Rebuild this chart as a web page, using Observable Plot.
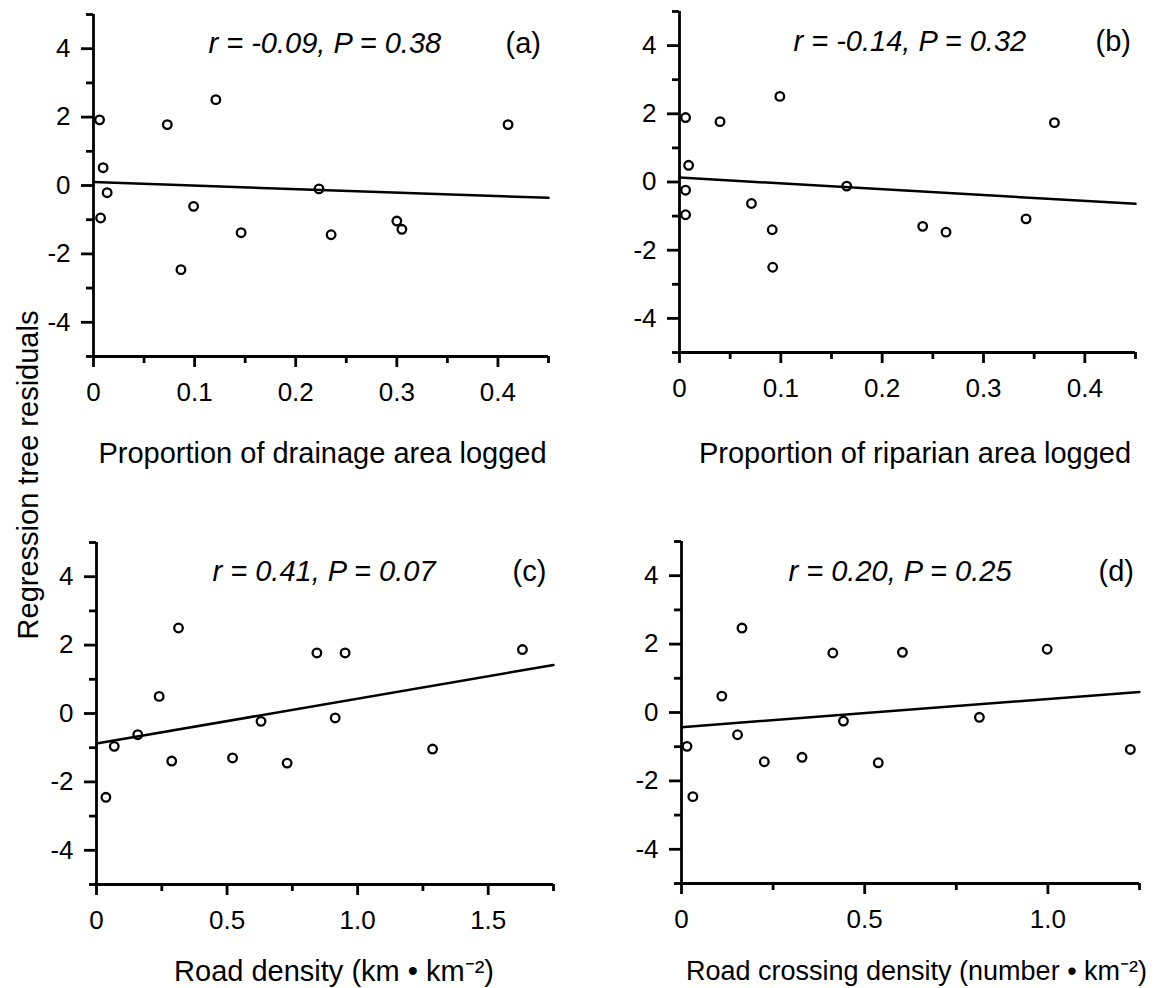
<!DOCTYPE html>
<html>
<head>
<meta charset="utf-8">
<script src="https://cdn.jsdelivr.net/npm/d3@7"></script>
<script src="https://cdn.jsdelivr.net/npm/@observablehq/plot@0.6"></script>
<style>
  body { margin: 0; background: #fff; }
  #wrap { position: relative; width: 1161px; height: 988px; background: #fff; font-family: "Liberation Sans", Arial, sans-serif; color: #000; }
  .panel { position: absolute; z-index: 1; }
  #ylab { position: absolute; z-index: 5; left: 28px; top: 475px; transform: translate(-50%, -50%) rotate(-90deg); font-size: 29px; white-space: nowrap; }
</style>
</head>
<body>
<div id="wrap"><div id="ylab">Regression tree residuals</div></div>
<script>
// ---------- DATA ----------
// (a) Proportion of drainage area logged vs residuals
const drainX = [0.006, 0.0095, 0.0135, 0.007, 0.073, 0.121, 0.099, 0.0865, 0.146, 0.223, 0.235, 0.300, 0.305, 0.410];
const drainY = [1.92, 0.52, -0.21, -0.95, 1.78, 2.51, -0.61, -2.46, -1.38, -0.10, -1.44, -1.04, -1.28, 1.78];
const drainLineX = [0, 0.45];
const drainLineY = [0.10, -0.36];

// (b) Proportion of riparian area logged
const ripX = [0.006, 0.009, 0.006, 0.006, 0.040, 0.099, 0.071, 0.0915, 0.092, 0.165, 0.240, 0.263, 0.342, 0.370];
const ripY = [1.89, 0.49, -0.24, -0.96, 1.77, 2.51, -0.63, -1.40, -2.50, -0.12, -1.30, -1.47, -1.08, 1.74];
const ripLineX = [0, 0.45];
const ripLineY = [0.13, -0.64];

// (c) Road density
const roadX = [0.036, 0.068, 0.158, 0.240, 0.314, 0.288, 0.521, 0.630, 0.730, 0.844, 0.952, 0.914, 1.287, 1.631];
const roadY = [-2.45, -0.96, -0.62, 0.50, 2.50, -1.39, -1.30, -0.23, -1.45, 1.77, 1.77, -0.13, -1.04, 1.87];
const roadLineX = [0, 1.75];
const roadLineY = [-0.88, 1.42];

// (d) Road crossing density
const crossX = [0.015, 0.031, 0.110, 0.153, 0.165, 0.226, 0.329, 0.413, 0.442, 0.537, 0.603, 0.813, 0.998, 1.225];
const crossY = [-0.99, -2.46, 0.48, -0.65, 2.47, -1.44, -1.31, 1.74, -0.25, -1.47, 1.76, -0.14, 1.85, -1.08];
const crossLineX = [0, 1.25];
const crossLineY = [-0.43, 0.60];

// ticks
const yMajor = [-4, -2, 0, 2, 4];
const yMinor = [-5, -3, -1, 1, 3, 5];
const propMajor = [0, 0.1, 0.2, 0.3, 0.4];
const propMinor = [0.05, 0.15, 0.25, 0.35, 0.45];
const roadMajor = [0, 0.5, 1.0, 1.5];
const roadMinor = [0.25, 0.75, 1.25, 1.75];
const crossMajor = [0, 0.5, 1.0];
const crossMinor = [0.25, 0.75, 1.25];

// texts
const statTexts = ["r = -0.09, P = 0.38", "r = -0.14, P = 0.32", "r = 0.41, P = 0.07", "r = 0.20, P = 0.25"];
const tags = ["(a)", "(b)", "(c)", "(d)"];
const xTitles = ["Proportion of drainage area logged", "Proportion of riparian area logged",
                 "Road density (km \u2022 km\u207B\u00B2)", "Road crossing density (number \u2022 km\u207B\u00B2)"];

// ---------- DRAW ----------
const fmtProp = d => d === 0 ? "0" : String(d);
const fmtRoad = d => d === 0 ? "0" : d.toFixed(1);
const fmtY = d => String(d);
const FONT = '"Liberation Sans", Arial, sans-serif';

function panel(cfg) {
  const pts = cfg.xs.map((x, i) => ({x, y: cfg.ys[i]}));
  const line = cfg.lx.map((x, i) => ({x, y: cfg.ly[i]}));
  const sw = 2.8;
  const svg = Plot.plot({
    width: cfg.width, height: cfg.height,
    marginLeft: cfg.ml, marginRight: cfg.mr, marginTop: cfg.mt, marginBottom: cfg.mb,
    style: {fontFamily: FONT, fontSize: "26px", color: "#000", background: "transparent", overflow: "visible"},
    x: {domain: cfg.xDomain, axis: null},
    y: {domain: [-5, 5], axis: null},
    marks: [
      Plot.axisY(yMajor, {anchor: "left", tickSize: 12, tickPadding: 11, tickFormat: fmtY, fontSize: 26, strokeWidth: sw, label: null}),
      Plot.axisY(yMinor, {anchor: "left", tickSize: 7, tickFormat: () => "", strokeWidth: sw, label: null}),
      Plot.axisX(cfg.major, {anchor: "bottom", tickSize: 11, tickPadding: 15, tickFormat: cfg.fmt, fontSize: 26, strokeWidth: sw, label: null}),
      Plot.axisX(cfg.minor, {anchor: "bottom", tickSize: 7, tickFormat: () => "", strokeWidth: sw, label: null}),
      Plot.ruleX([0], {stroke: "#000", strokeWidth: sw}),
      Plot.ruleY([-5], {stroke: "#000", strokeWidth: sw}),
      Plot.line(line, {x: "x", y: "y", stroke: "#000", strokeWidth: 2.5}),
      Plot.dot(pts, {x: "x", y: "y", r: 4.3, stroke: "#000", strokeWidth: 2.3, fill: "none"}),
      Plot.text([cfg.stat], {frameAnchor: "top-left", textAnchor: "start", lineAnchor: "bottom", dx: cfg.sdx, dy: cfg.sdy, fontSize: 29, fontStyle: "italic", fill: "#000"}),
      Plot.text([cfg.tag], {frameAnchor: "top-left", textAnchor: "start", lineAnchor: "bottom", dx: cfg.tdx, dy: cfg.sdy, fontSize: 29, fill: "#000"}),
      Plot.text([cfg.title], {frameAnchor: "bottom", lineAnchor: "bottom", dx: cfg.xdx, dy: cfg.xdy, fontSize: cfg.tfs, fill: "#000"})
    ]
  });
  const div = document.createElement("div");
  div.className = "panel";
  div.style.left = cfg.left + "px";
  div.style.top = cfg.top + "px";
  div.appendChild(svg);
  document.getElementById("wrap").appendChild(div);
}

panel({xs: drainX, ys: drainY, lx: drainLineX, ly: drainLineY, xDomain: [0, 0.45], major: propMajor, minor: propMinor, fmt: fmtProp,
  left: 0, top: 0, width: 580, height: 480, ml: 93, mr: 32, mt: 14, mb: 124,
  stat: statTexts[0], tag: tags[0], title: xTitles[0], sdx: 115, sdy: 38, tdx: 412, xdx: 1.5, xdy: 106, tfs: 29});

panel({xs: ripX, ys: ripY, lx: ripLineX, ly: ripLineY, xDomain: [0, 0.45], major: propMajor, minor: propMinor, fmt: fmtProp,
  left: 580, top: 0, width: 581, height: 480, ml: 99, mr: 26, mt: 11, mb: 128,
  stat: statTexts[1], tag: tags[1], title: xTitles[1], sdx: 114, sdy: 39, tdx: 416, xdx: 7.5, xdy: 110, tfs: 29});

panel({xs: roadX, ys: roadY, lx: roadLineX, ly: roadLineY, xDomain: [0, 1.75], major: roadMajor, minor: roadMinor, fmt: fmtRoad,
  left: 0, top: 500, width: 580, height: 488, ml: 96, mr: 27, mt: 42, mb: 104,
  stat: statTexts[2], tag: tags[2], title: xTitles[2], sdx: 116, sdy: 38, tdx: 416, xdx: 9, xdy: 96, tfs: 29});

panel({xs: crossX, ys: crossY, lx: crossLineX, ly: crossLineY, xDomain: [0, 1.25], major: crossMajor, minor: crossMinor, fmt: fmtRoad,
  left: 580, top: 500, width: 581, height: 488, ml: 101, mr: 22, mt: 41, mb: 105,
  stat: statTexts[3], tag: tags[3], title: xTitles[3], sdx: 107, sdy: 39, tdx: 417, xdx: 6, xdy: 96, tfs: 27});
</script>
</body>
</html>
